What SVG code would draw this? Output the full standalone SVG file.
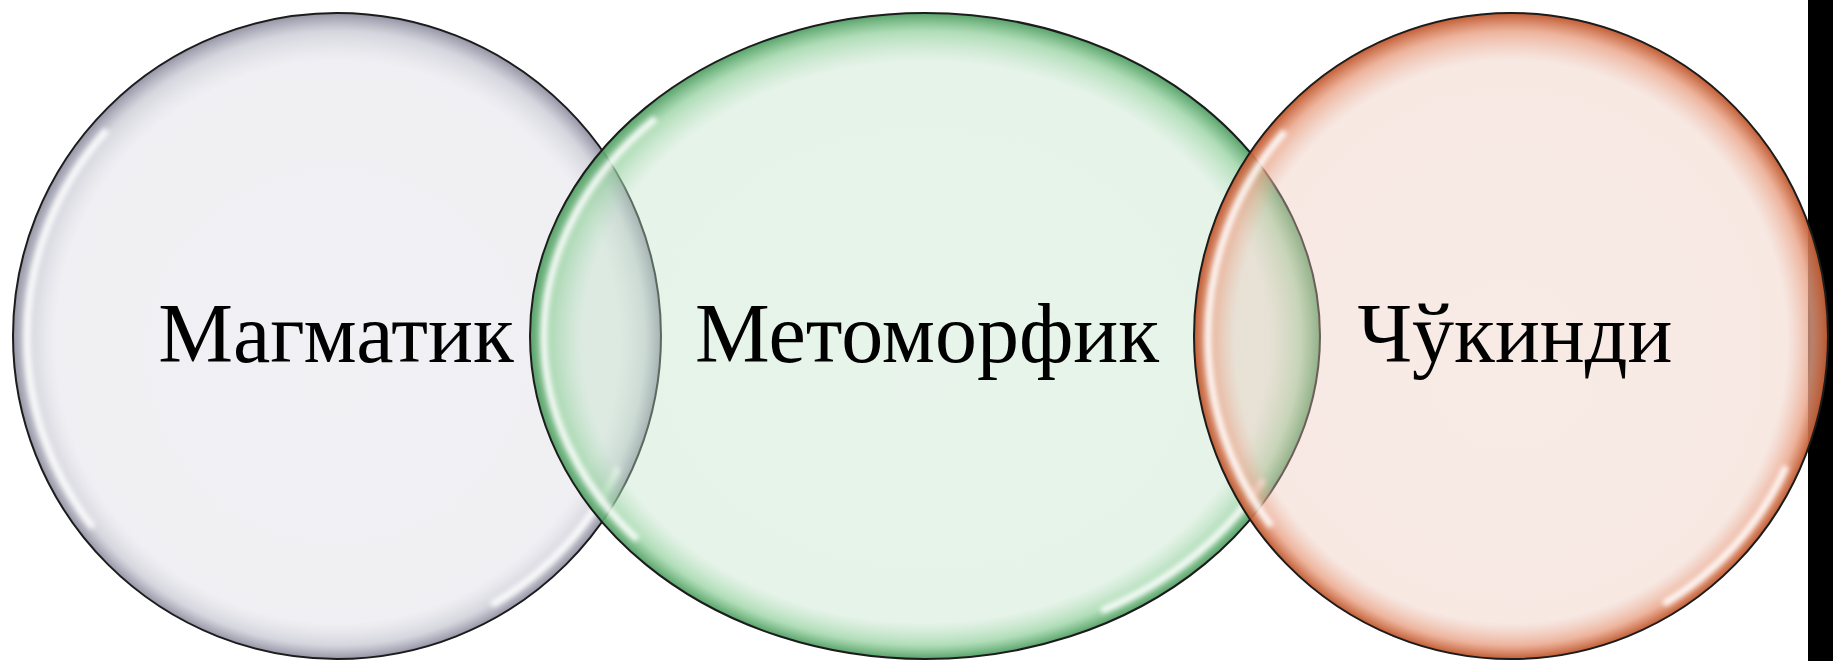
<svg xmlns="http://www.w3.org/2000/svg" width="1833" height="661" viewBox="0 0 1833 661">
<style>
.ring{stroke:#1c1c1c;stroke-width:2}
.hl{fill:none;stroke:#fff;stroke-width:7;stroke-opacity:0.9;stroke-dasharray:35 82 80 163;stroke-dashoffset:-25}
.lbl{font-family:"Liberation Serif","Times New Roman",serif;font-size:84px;fill:#000;text-anchor:middle}
</style>
<defs>
<radialGradient id="gGray" cx="0.5" cy="0.5" r="0.5" fx="0.5" fy="0.57">
<stop offset="0" stop-color="#d7d7e1" stop-opacity="0.35"/>
<stop offset="0.87" stop-color="#d7d7e1" stop-opacity="0.38"/>
<stop offset="0.95" stop-color="#c4c4d0" stop-opacity="0.7"/>
<stop offset="1" stop-color="#8e8ea0" stop-opacity="0.95"/>
</radialGradient>
<radialGradient id="gGreen" cx="0.5" cy="0.5" r="0.5" fx="0.5" fy="0.57">
<stop offset="0" stop-color="#bee1c6" stop-opacity="0.35"/>
<stop offset="0.87" stop-color="#bee1c6" stop-opacity="0.4"/>
<stop offset="0.95" stop-color="#96d2a0" stop-opacity="0.75"/>
<stop offset="1" stop-color="#4f9e62" stop-opacity="0.95"/>
</radialGradient>
<radialGradient id="gOrange" cx="0.5" cy="0.5" r="0.5" fx="0.5" fy="0.57">
<stop offset="0" stop-color="#ebc6b8" stop-opacity="0.35"/>
<stop offset="0.87" stop-color="#ebc6b8" stop-opacity="0.4"/>
<stop offset="0.95" stop-color="#e9a184" stop-opacity="0.8"/>
<stop offset="1" stop-color="#c0582e" stop-opacity="0.97"/>
</radialGradient>
<filter id="soft" x="-5%" y="-5%" width="110%" height="110%"><feGaussianBlur stdDeviation="2.5"/></filter>
</defs>
<rect x="1808" y="0" width="25" height="661" fill="#000"/>
<g id="magmatik">
<ellipse class="ring" cx="337" cy="336" rx="324" ry="323" fill="url(#gGray)"/>
<ellipse class="hl" cx="337" cy="337" rx="310" ry="309" pathLength="360" filter="url(#soft)"/>
</g>
<g id="metomorfik">
<ellipse class="ring" cx="925" cy="336" rx="395" ry="323" fill="url(#gGreen)"/>
<ellipse class="hl" cx="925" cy="337" rx="381" ry="309" pathLength="360" filter="url(#soft)"/>
</g>
<g id="chukindi">
<ellipse class="ring" cx="1511" cy="336" rx="317" ry="323" fill="url(#gOrange)"/>
<ellipse class="hl" cx="1511" cy="337" rx="303" ry="309" pathLength="360" filter="url(#soft)"/>
</g>
<g id="labels">
<text class="lbl" x="336" y="362">Магматик</text>
<text class="lbl" x="927" y="362">Метоморфик</text>
<text class="lbl" x="1515" y="362">Чўкинди</text>
</g>
<g id="connectors"/>
</svg>
